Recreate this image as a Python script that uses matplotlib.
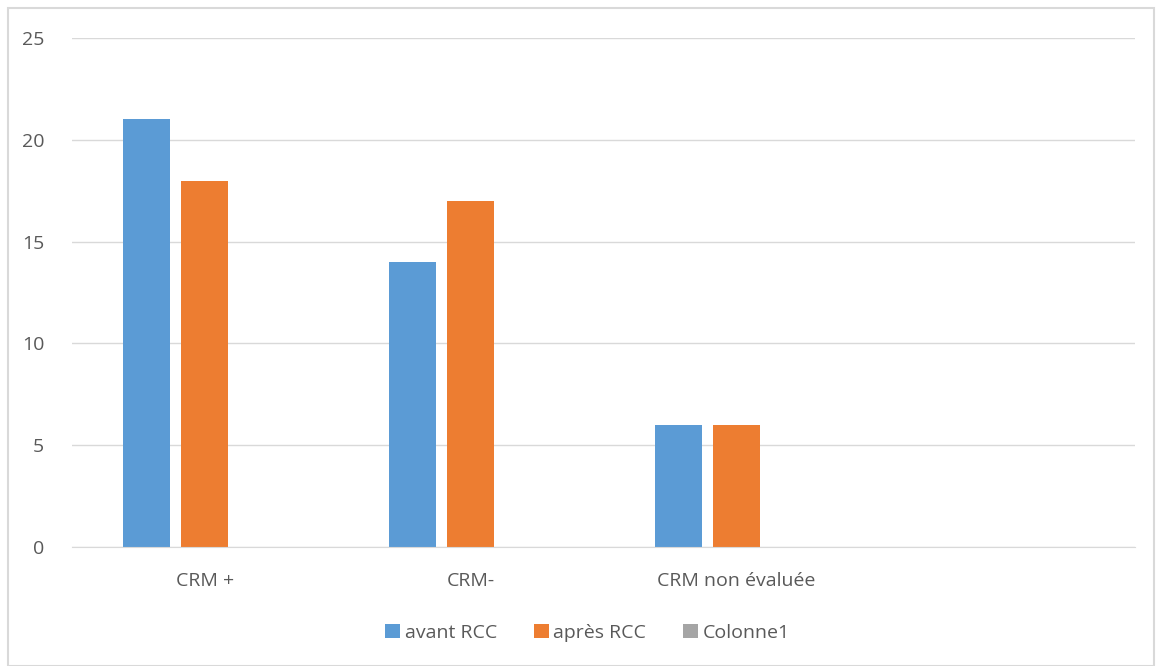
import matplotlib
matplotlib.use("Agg")
import matplotlib.pyplot as plt
from matplotlib.patches import Rectangle
import numpy as np

categories = ["CRM +", "CRM-", "CRM non évaluée", ""]
avant = [21, 14, 6, 0]
apres = [18, 17, 6, 0]
colonne1 = [0, 0, 0, 0]
series = [("avant RCC", avant, "#5b9bd5"),
          ("après RCC", apres, "#ed7d31"),
          ("Colonne1", colonne1, "#a5a5a5")]

plt.rcParams["font.family"] = ["Open Sans", "DejaVu Sans"]
TXT = "#595959"

fig = plt.figure(figsize=(11.56, 6.66), dpi=100)
fig.patches.append(Rectangle((8 / 1156, 0), 1 - 8 / 1156 - 2 / 1156, 1 - 8 / 666,
                             transform=fig.transFigure, fill=False,
                             edgecolor="#d9d9d9", lw=1.5))
ax = fig.add_axes([72 / 1156, 119 / 666, (1135 - 72) / 1156, (547 - 38) / 666])

x = np.arange(len(categories))
w, step = 0.177, 0.218
for i, (name, vals, col) in enumerate(series):
    ax.bar(x + (i - 1) * step, vals, w, color=col, label=name)

ax.set_xlim(-0.5, len(categories) - 0.5)
ax.set_ylim(0, 25)
ax.set_yticks(range(0, 26, 5))
ax.set_xticks(x)
ax.set_xticklabels(categories)
ax.tick_params(length=0, colors=TXT, labelsize=14)
ax.tick_params(axis="x", pad=18)
ax.tick_params(axis="y", pad=20)
ax.grid(axis="y", color="#d9d9d9", lw=1)
ax.set_axisbelow(True)
for s in ["left", "right", "top"]:
    ax.spines[s].set_visible(False)
ax.spines["bottom"].set_color("#d9d9d9")

ax.legend(loc="center", bbox_to_anchor=(0.485, -(633 - 547) / (547 - 38)),
          ncol=3, frameon=False, fontsize=14, labelcolor=TXT,
          handlelength=0.75, handleheight=0.75, handletextpad=0.25, columnspacing=1.9)

fig.savefig("out.png", dpi=100)
